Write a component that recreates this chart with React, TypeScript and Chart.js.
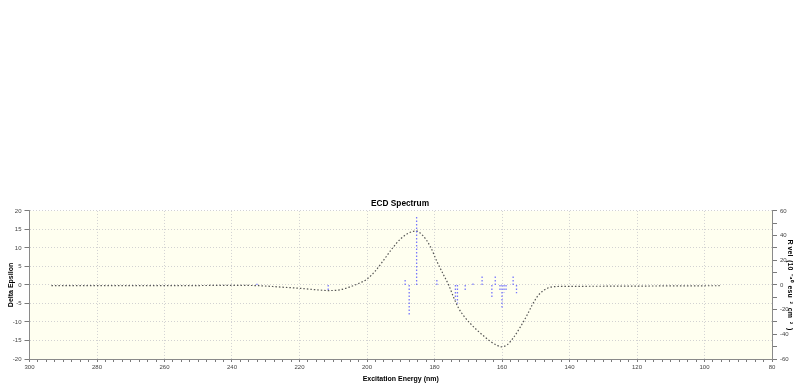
import React, { useEffect, useRef } from 'react';
import { Chart, registerables } from 'chart.js';

Chart.register(...registerables);

// Calculated ECD curve (wavelength in nm, Delta Epsilon)
const curveWavelengths = [
  293.5, 270, 250, 240, 232, 225, 220, 215, 211.5, 208, 205, 202.5, 200, 197.5, 195,
  192.5, 190, 187.5, 185.5, 183.5, 181.3, 179.3, 177.3, 175.8, 174.4, 172.9, 171.4,
  169.4, 167.4, 165.4, 163.5, 161.5, 160.3, 158.5, 156.5, 154.6, 152.6, 151.1, 149.6,
  147.6, 145.6, 143.2, 135, 120, 110, 95.5,
];
const curveDeltaEpsilon = [
  -0.2, -0.2, -0.15, -0.1, -0.2, -0.6, -0.9, -1.3, -1.5, -1.3, -0.5, 0.4, 1.6, 3.8, 6.8,
  9.9, 12.5, 14.1, 14.6, 13.4, 10.5, 6.4, 2.7, 0, -3.2, -6.2, -8.3,
  -10.4, -12.2, -13.8, -15.2, -16.3, -16.7, -16.2, -14.1, -11.4, -8.2, -5.5, -3.2,
  -1.4, -0.6, -0.4, -0.35, -0.3, -0.25, -0.2,
];

// Rotatory strength sticks (wavelength in nm, R vel)
const stickWavelengths = [
  232.6, 211.5, 188.7, 187.5, 185.3, 179.3, 173.8, 173.2, 170.9, 168.6, 165.9,
  163.0, 162.0, 160.6, 160.0, 159.4, 158.8, 156.7, 155.7,
];
const stickRvel = [
  1, -4, 4, -24.3, 55.4, 4, -12, -15, -4, 1.4, 6.8,
  -10.8, 6.8, -5.4, -18.9, -6, -4, 6.8, -6.8,
];

// Tick labels
const xTickLabels = [300, 280, 260, 240, 220, 200, 180, 160, 140, 120, 100, 80];
const yTickLabels = [20, 15, 10, 5, 0, -5, -10, -15, -20];
const y2TickLabels = [60, 40, 20, 0, -20, -40, -60];

const FONT = "'Liberation Sans', Arial, sans-serif";
const GRID = '#d2d2d2';
const AXIS = '#8a8a8a';
const TICK = '#7a7a7a';
const LABEL = '#444';

const bgPlugin = {
  id: 'plotBg',
  beforeDraw(chart: any) {
    const { ctx, chartArea: a } = chart;
    if (!a) return;
    ctx.save();
    ctx.fillStyle = '#FFFFF0';
    ctx.fillRect(a.left, a.top, a.right - a.left, a.bottom - a.top);
    ctx.restore();
  },
};

export default function App() {
  const ref = useRef<HTMLCanvasElement | null>(null);

  useEffect(() => {
    if (!ref.current) return;
    const curveData = curveWavelengths.map((x, i) => ({ x, y: curveDeltaEpsilon[i] }));
    const stickData: any[] = [];
    stickWavelengths.forEach((x, i) => {
      stickData.push({ x, y: 0 });
      stickData.push({ x, y: stickRvel[i] });
      stickData.push({ x, y: null });
    });

    const chart = new Chart(ref.current, {
      type: 'line',
      data: {
        datasets: [
          {
            label: 'Sticks',
            data: stickData,
            yAxisID: 'y2',
            borderColor: 'rgba(85,85,255,0.8)',
            borderWidth: 1.3,
            borderDash: [1.5, 2],
            pointRadius: 0,
            tension: 0,
            spanGaps: false,
          },
          {
            label: 'ECD',
            data: curveData,
            yAxisID: 'y',
            borderColor: '#555',
            borderWidth: 1.2,
            borderDash: [1.5, 2],
            pointRadius: 0,
            cubicInterpolationMode: 'monotone',
          },
        ],
      },
      plugins: [bgPlugin],
      options: {
        responsive: false,
        animation: false,
        events: [],
        layout: { padding: { top: 199, left: 0, right: 0, bottom: 0 } },
        plugins: {
          legend: { display: false },
          tooltip: { enabled: false },
          title: {
            display: true,
            text: 'ECD Spectrum',
            color: '#000',
            font: { family: FONT, size: 8.3, weight: 'bold' },
            padding: { top: 0, bottom: 2 },
          },
        },
        scales: {
          x: {
            type: 'linear',
            position: 'bottom',
            min: 80,
            max: 300,
            reverse: true,
            afterBuildTicks: (s: any) => {
              const t: any[] = [];
              for (let v = 80; v <= 300.001; v += 2.5) t.push({ value: v });
              s.ticks = t;
            },
            afterFit: (s: any) => {
              s.height = 24;
            },
            ticks: {
              autoSkip: false,
              maxRotation: 0,
              padding: 2,
              color: LABEL,
              font: { family: FONT, size: 6 },
              callback: (v: any) => (xTickLabels.includes(v) ? String(v) : ''),
            },
            grid: {
              color: (c: any) =>
                c.tick && xTickLabels.includes(c.tick.value) ? GRID : 'rgba(0,0,0,0)',
              tickColor: TICK,
              tickLength: 3,
              lineWidth: 1,
            },
            border: { color: AXIS, width: 1, dash: [1, 2] },
            title: {
              display: true,
              text: 'Excitation Energy (nm)',
              color: '#000',
              font: { family: FONT, size: 7, weight: 'bold' },
              padding: { top: 0, bottom: 0 },
            },
          },
          y: {
            position: 'left',
            min: -20,
            max: 20,
            afterBuildTicks: (s: any) => {
              s.ticks = yTickLabels.map((v) => ({ value: v })).reverse();
            },
            afterFit: (s: any) => {
              s.width = 29.5;
            },
            ticks: {
              padding: 3,
              color: LABEL,
              font: { family: FONT, size: 6 },
              callback: (v: any) => String(v),
            },
            grid: { color: GRID, tickColor: TICK, tickLength: 5, lineWidth: 1 },
            border: { color: AXIS, width: 1, dash: [1, 2] },
            title: {
              display: true,
              text: 'Delta Epsilon',
              color: '#000',
              font: { family: FONT, size: 7, weight: 'bold' },
              padding: { top: 6.5, bottom: 0 },
            },
          },
          y2: {
            position: 'right',
            min: -60,
            max: 60,
            afterBuildTicks: (s: any) => {
              const t: any[] = [];
              for (let v = -60; v <= 60; v += 10) t.push({ value: v });
              s.ticks = t;
            },
            afterFit: (s: any) => {
              s.width = 28;
            },
            ticks: {
              autoSkip: false,
              padding: 3,
              color: LABEL,
              font: { family: FONT, size: 6 },
              callback: (v: any) => (y2TickLabels.includes(v) ? String(v) : ''),
            },
            grid: { drawOnChartArea: false, tickColor: TICK, tickLength: 5 },
            border: { color: AXIS, width: 1 },
            title: {
              display: true,
              text: 'R vel  (10  ⁻⁴⁰  esu  ²  cm  ²  )',
              color: '#000',
              font: { family: FONT, size: 7, weight: 'bold' },
              padding: { top: 5.8, bottom: 0 },
            },
          },
        },
      } as any,
    });
    return () => chart.destroy();
  }, []);

  return (
    <div style={{ position: 'fixed', left: 0, top: 0, width: 800, height: 383, background: '#fff' }}>
      <canvas ref={ref} width={800} height={383} style={{ display: 'block' }} />
    </div>
  );
}
